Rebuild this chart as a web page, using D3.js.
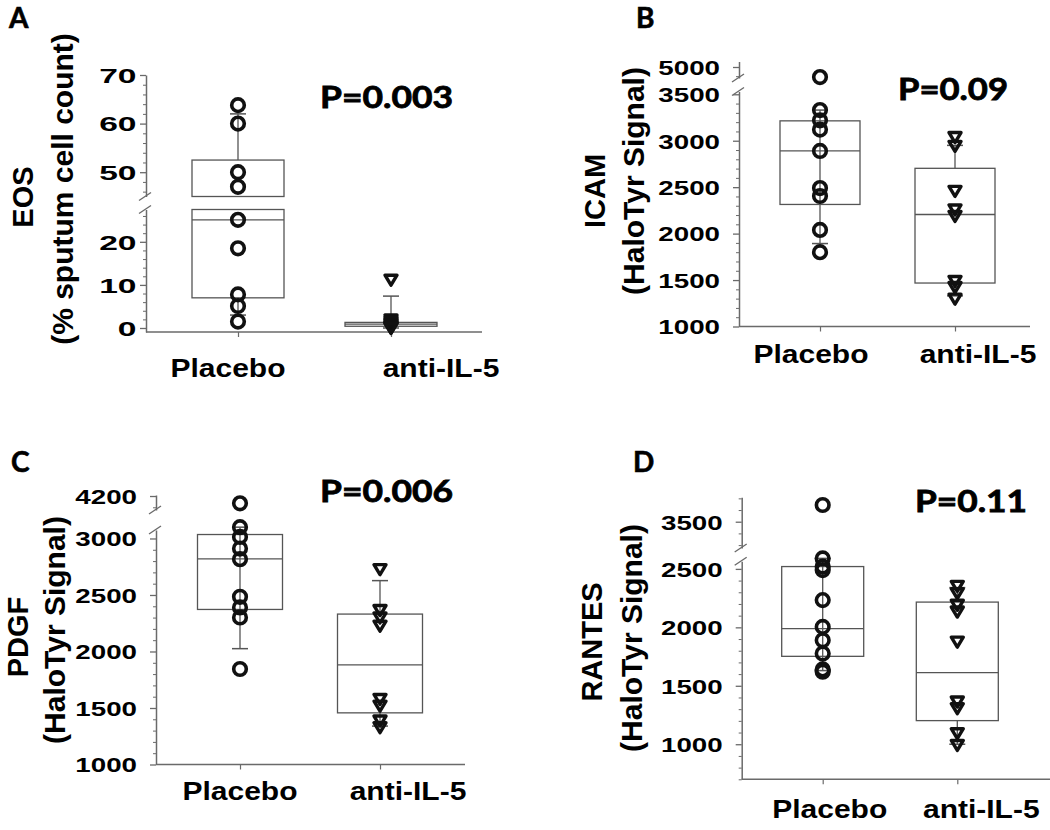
<!DOCTYPE html>
<html>
<head>
<meta charset="utf-8">
<script src="https://cdn.jsdelivr.net/npm/d3@7"></script>
<style>
  body { margin: 0; background: #fff; }
  svg { display: block; }
</style>
</head>
<body>
<div id="app"></div>
<script>
//#region 1. Data
const groups = ["Placebo", "anti-IL-5"]
const panelLetters = ["A", "B", "C", "D"]
const pValues = ["P=0.003", "P=0.09", "P=0.006", "P=0.11"]
const titles = ["EOS", "ICAM", "PDGF", "RANTES"]
const subtitles = ["(% sputum cell count)", "(HaloTyr Signal)", "(HaloTyr Signal)", "(HaloTyr Signal)"]

// A - EOS (% sputum cell count)
const eosPlacebo = [63.8, 60, 50, 47, 25.1, 18.5, 7.8, 5.1, 1.5]
const eosAnti = [11.2, 2.0, 1.5, 1.1, 0.8, 0.5, 0.3, 0.1, 0.0]
const eosBox = [[7, 25.1, 52.5], [0.4, 0.9, 1.3]]       // q1, median, q3
const eosWhisker = [[3, 62], [0, 7.4]]                  // low, high
const eosTicksLower = [0, 10, 20]
const eosTicksUpper = [50, 60, 70]

// B - ICAM
const icamPlacebo = [4890, 3330, 3220, 3120, 2890, 2490, 2405, 2040, 1800]
const icamAnti = [3040, 2945, 2460, 2260, 2190, 1490, 1425, 1300]
const icamBox = [[2314, 2890, 3214], [1468, 2206, 2703]]
const icamWhisker = [[1893, 3330], [1330, 2950]]
const icamTicksLower = [1000, 1500, 2000, 2500, 3000, 3500]
const icamTicksUpper = [5000]

// C - PDGF
const pdgfPlacebo = [4135, 3100, 3014, 2911, 2817, 2484, 2390, 2301, 1845]
const pdgfAnti = [2729, 2367, 2301, 2228, 1580, 1521, 1389, 1330]
const pdgfBox = [[2372, 2820, 3035], [1457, 1881, 2331]]
const pdgfWhisker = [[2025, 3100], [1340, 2627]]
const pdgfTicksLower = [1000, 1500, 2000, 2500, 3000]
const pdgfTicksUpper = [4200]

// D - RANTES
const rantesPlacebo = [3643, 2590, 2520, 2490, 2233, 2004, 1890, 1776, 1640, 1620]
const rantesAnti = [2355, 2293, 2193, 2135, 1878, 1365, 1308, 1094, 994]
const rantesBox = [[1752, 1989, 2520], [1202, 1613, 2216]]
const rantesWhisker = [[1630, 2590], [1000, 2340]]
const rantesTicksLower = [1000, 1500, 2000, 2500]
const rantesTicksUpper = [3500]

const panels = [
  { values: [eosPlacebo, eosAnti], box: eosBox, whisker: eosWhisker, ticksLower: eosTicksLower, ticksUpper: eosTicksUpper, minorStep: 2 },
  { values: [icamPlacebo, icamAnti], box: icamBox, whisker: icamWhisker, ticksLower: icamTicksLower, ticksUpper: icamTicksUpper, minorStep: 100 },
  { values: [pdgfPlacebo, pdgfAnti], box: pdgfBox, whisker: pdgfWhisker, ticksLower: pdgfTicksLower, ticksUpper: pdgfTicksUpper, minorStep: 100 },
  { values: [rantesPlacebo, rantesAnti], box: rantesBox, whisker: rantesWhisker, ticksLower: rantesTicksLower, ticksUpper: rantesTicksUpper, minorStep: 100 },
]
//#endregion

//#region 2. Layout
const layouts = [
  { letter: [9, 28], p: [320, 108], pLen: 133,
    axisX: 146, xEnd: 482, base: 332, cats: [238, 391], half: 46,
    labelDx: [-10, 50], labelY: 377, tickGap: 9.5, tickSx: 1.6,
    lower: { domain: [-0.93, 27.5], range: [332, 209.5] },
    upper: { domain: [45, 70], range: [196.5, 75] },
    title: [33, 197], subtitle: [73, 189], spine: false },
  { letter: [636, 28], p: [898, 100], pLen: 110,
    axisX: 739, xEnd: 1030, base: 326.5, cats: [820, 955], half: 40,
    labelDx: [-9, 23], labelY: 363, tickGap: 19, tickSx: 1.32,
    lower: { domain: [1000, 3530], range: [326.5, 91.5] },
    upper: { domain: [4880, 5060], range: [78, 61.5] },
    title: [605, 191], subtitle: [644, 181], spine: true },
  { letter: [11, 472], p: [320, 502], pLen: 133,
    axisX: 156, xEnd: 465, base: 764.5, cats: [240, 380], half: 42.5,
    labelDx: [0, 28], labelY: 800, tickGap: 19, tickSx: 1.32,
    lower: { domain: [1000, 3075], range: [764.5, 530] },
    upper: { domain: [4076, 4209], range: [510, 495] },
    title: [28, 637], subtitle: [65, 630], spine: true },
  { letter: [633, 472], p: [915, 512], pLen: 112,
    axisX: 741.7, xEnd: 1050, base: 779.3, cats: [822.7, 957.3], half: 41,
    labelDx: [7, 24], labelY: 818, tickGap: 19, tickSx: 1.32,
    lower: { domain: [700, 2565], range: [779.3, 561.3] },
    upper: { domain: [3275, 3709], range: [548, 497.3] },
    title: [602, 642], subtitle: [642, 638], spine: true },
]

const axisFont = "'Liberation Sans', Arial, sans-serif"
const calibriLike = "Lato, 'Open Sans', sans-serif"
const axisColor = "#6a6a6a"
const boxColor = "#555"
const markColor = "#111"
//#endregion

//#region 3. Draw canvas
const svg = d3.select("#app")
  .append("svg")
    .attr("width", 1050)
    .attr("height", 830)
//#endregion

panels.forEach((panel, i) => drawPanel(panel, layouts[i], i))

function drawPanel(panel, L, i) {
  const g = svg.append("g")

  //#region scales (broken y axis = two linear pieces)
  const lowerScale = d3.scaleLinear().domain(L.lower.domain).range(L.lower.range)
  const upperScale = d3.scaleLinear().domain(L.upper.domain).range(L.upper.range)
  const yScale = v => v >= L.upper.domain[0] ? upperScale(v) : lowerScale(v)
  const xScale = d3.scalePoint().domain(groups).range(L.cats)
  const segments = [
    { scale: lowerScale, dom: L.lower.domain, ticks: panel.ticksLower },
    { scale: upperScale, dom: L.upper.domain, ticks: panel.ticksUpper },
  ]
  //#endregion

  //#region boxes, medians, whiskers
  groups.forEach((grp, gi) => {
    const cx = xScale(grp)
    const [q1, med, q3] = panel.box[gi]
    const [lo, hi] = panel.whisker[gi]

    segments.forEach(seg => {
      const a = Math.max(q1, seg.dom[0])
      const b = Math.min(q3, seg.dom[1])
      if (b <= a) return
      g.append("rect")
        .attr("x", cx - L.half)
        .attr("y", seg.scale(b))
        .attr("width", L.half * 2)
        .attr("height", seg.scale(a) - seg.scale(b))
        .attr("fill", "none")
        .attr("stroke", boxColor)
        .attr("stroke-width", 1.3)
    })

    g.append("line")
      .attr("x1", cx - L.half).attr("x2", cx + L.half)
      .attr("y1", yScale(med)).attr("y2", yScale(med))
      .attr("stroke", boxColor).attr("stroke-width", 1.3)

    const whiskerSegs = (L.spine && gi === 0) ? [[lo, hi]] : [[q3, hi], [lo, q1]]
    whiskerSegs.forEach(([a, b]) => {
      g.append("line")
        .attr("x1", cx).attr("x2", cx)
        .attr("y1", yScale(a)).attr("y2", yScale(b))
        .attr("stroke", boxColor).attr("stroke-width", 1.3)
    })
    ;[lo, hi].forEach(v => {
      g.append("line")
        .attr("x1", cx - 8).attr("x2", cx + 8)
        .attr("y1", yScale(v)).attr("y2", yScale(v))
        .attr("stroke", boxColor).attr("stroke-width", 1.5)
    })
  })
  //#endregion

  //#region y axis pieces
  segments.forEach(seg => {
    const minor = d3.range(Math.ceil(seg.dom[0] / panel.minorStep) * panel.minorStep, seg.dom[1] + 1e-9, panel.minorStep)
      .filter(v => !seg.ticks.some(t => Math.abs(t - v) < 1e-9))

    g.append("g")
      .attr("transform", `translate(${L.axisX},0)`)
      .call(d3.axisLeft(seg.scale).tickValues(minor).tickSize(3).tickSizeOuter(0).tickFormat(""))
      .call(a => a.selectAll("line").attr("stroke", axisColor).attr("stroke-width", 1))
      .call(a => a.select(".domain").attr("stroke", axisColor).attr("stroke-width", 1.5))

    const major = g.append("g")
      .attr("transform", `translate(${L.axisX},0)`)
      .call(d3.axisLeft(seg.scale).tickValues(seg.ticks).tickSize(6).tickSizeOuter(0).tickFormat(d => d))
    major.select(".domain").remove()
    major.selectAll("line").attr("stroke", axisColor).attr("stroke-width", 1.3)
    major.selectAll("text")
      .attr("x", 0)
      .attr("dy", "0.35em")
      .attr("transform", `translate(${-L.tickGap},0) scale(${L.tickSx},1)`)
      .attr("fill", "#000")
      .style("font-family", axisFont)
      .style("font-size", "21px")
      .style("font-weight", "bold")
  })

  // break marks
  ;[L.upper.range[0], L.lower.range[1]].forEach(y => {
    g.append("line")
      .attr("x1", L.axisX - 7).attr("y1", y + 4)
      .attr("x2", L.axisX + 5).attr("y2", y - 4)
      .attr("stroke", axisColor).attr("stroke-width", 1.3)
  })
  //#endregion

  //#region x axis
  g.append("line")
    .attr("x1", L.axisX).attr("x2", L.xEnd)
    .attr("y1", L.base).attr("y2", L.base)
    .attr("stroke", axisColor).attr("stroke-width", 1.5)

  const xAxis = g.append("g")
    .attr("transform", `translate(0,${L.base})`)
    .call(d3.axisBottom(xScale).tickSize(5).tickSizeOuter(0).tickFormat(""))
  xAxis.select(".domain").remove()
  xAxis.selectAll("line").attr("stroke", axisColor).attr("stroke-width", 1.2)

  g.selectAll(".cat-label")
    .data(groups)
    .join("text")
      .attr("class", "cat-label")
      .attr("text-anchor", "middle")
      .attr("transform", (d, gi) => `translate(${xScale(d) + L.labelDx[gi]},${L.labelY}) scale(1.2,1)`)
      .style("font-family", axisFont)
      .style("font-size", "25px")
      .style("font-weight", "bold")
      .text(d => d)
  //#endregion

  //#region points
  const triangle = "M-6,-4.5L6,-4.5L0,5.5Z"
  groups.forEach((grp, gi) => {
    const cx = xScale(grp)
    const pts = g.append("g")
      .selectAll("g")
      .data(panel.values[gi])
      .join("g")
        .attr("transform", d => `translate(${cx},${yScale(d)})`)
    if (gi === 0) {
      pts.append("circle")
        .attr("r", 6.3)
        .attr("fill", "none")
        .attr("stroke", markColor)
        .attr("stroke-width", 3.6)
    } else {
      pts.append("path")
        .attr("d", triangle)
        .attr("fill", "none")
        .attr("stroke", markColor)
        .attr("stroke-width", 3.4)
        .attr("stroke-linejoin", "round")
    }
  })
  //#endregion

  //#region texts
  g.append("text")
    .attr("transform", `translate(${L.title[0]},${L.title[1]}) rotate(-90)`)
    .attr("text-anchor", "middle")
    .style("font-family", axisFont)
    .style("font-size", "29px")
    .style("font-weight", "bold")
    .text(titles[i])

  g.append("text")
    .attr("transform", `translate(${L.subtitle[0]},${L.subtitle[1]}) rotate(-90)`)
    .attr("text-anchor", "middle")
    .style("font-family", axisFont)
    .style("font-size", "30px")
    .style("font-weight", "bold")
    .text(subtitles[i])

  g.append("text")
    .attr("x", L.letter[0])
    .attr("y", L.letter[1])
    .attr("stroke", "#000")
    .attr("stroke-width", 0.6)
    .style("font-family", calibriLike)
    .style("font-size", "28px")
    .style("font-weight", "bold")
    .text(panelLetters[i])

  g.append("text")
    .attr("x", L.p[0])
    .attr("y", L.p[1])
    .attr("textLength", L.pLen)
    .attr("lengthAdjust", "spacingAndGlyphs")
    .attr("stroke", "#000")
    .attr("stroke-width", 0.8)
    .style("font-family", calibriLike)
    .style("font-size", "31px")
    .style("font-weight", "bold")
    .text(pValues[i])
  //#endregion
}
</script>
</body>
</html>
